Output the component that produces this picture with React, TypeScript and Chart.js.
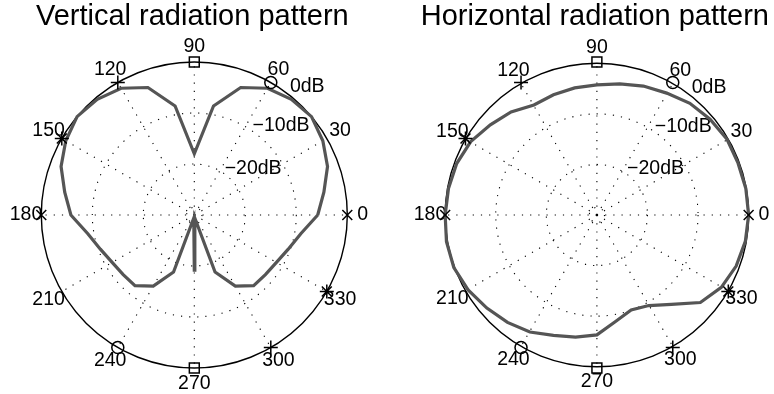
import React, { useEffect, useRef } from "react";
import { Chart, registerables } from "chart.js";

Chart.register(...registerables);

// ---------- data ----------
const DB_MIN = -30;
const ANGLES_DEG = [0, 10, 20, 30, 40, 50, 60, 70, 80, 90, 100, 110, 120, 130, 140, 150, 160, 170, 180, 190, 200, 210, 220, 230, 240, 250, 260, 270, 280, 290, 300, 310, 320, 330, 340, 350];
const VERTICAL_DB = [-5.8, -4.2, -2.2, -0.9, 0, -0.4, -1.3, -3.4, -8.3, -18.0, -8.3, -3.4, -1.3, -0.4, 0, -0.9, -2.2, -4.2, -5.8, -8.8, -10.4, -11.4, -11.8, -11.9, -13.9, -18.1, -29.4, -19.2, -29.4, -18.1, -13.9, -11.9, -11.8, -11.4, -10.4, -8.8];
const HORIZONTAL_DB = [0, -0.1, -0.3, -0.3, -0.8, -1.4, -2.4, -3.1, -3.9, -4.5, -4.7, -4.9, -5.1, -3.6, -2.5, -1.2, -0.5, -0.2, 0, 0.2, 0.1, -0.6, -1.6, -2.5, -3.5, -4.9, -5.7, -6.5, -8.8, -10.2, -9.5, -7.1, -3.3, -1.6, -0.7, -0.2];

const OUTER_RING_DB = 0;
const GRID_RINGS_DB = [-10, -20, -28.5];
const RING_LABEL_DB = [0, -10, -20];
const RING_LABELS = ["0dB", "\u221210dB", "\u221220dB"];
const SPOKE_ANGLES = [0, 30, 60, 90, 120, 150, 180, 210, 240, 270, 300, 330];
const SPOKE_LABELS = ["0", "30", "60", "90", "120", "150", "180", "210", "240", "270", "300", "330"];
const MARKER_ANGLES = [0, 60, 90, 120, 150, 180, 240, 270, 300, 330];
const MARKER_STYLES = ["crossRot", "circle", "rect", "cross", "star", "crossRot", "circle", "rect", "cross", "star"];
const TITLES = ["Vertical radiation pattern", "Horizontal radiation pattern"];

// ---------- styling ----------
const FONT = '"Liberation Sans", Arial, Helvetica, sans-serif';
const MARKER_SIZE: Record<string, number> = { crossRot: 7, circle: 6, rect: 7, cross: 7, star: 7 };
const LIM = (170 * (OUTER_RING_DB - DB_MIN)) / 153;

function toXY(angleDeg: number, db: number) {
  const t = (angleDeg * Math.PI) / 180;
  const r = db - DB_MIN;
  return { x: r * Math.cos(t), y: r * Math.sin(t) };
}

const polarPlugin = {
  id: "polarGrid",
  beforeDatasetsDraw(chart: any, _args: any, opts: any) {
    const { ctx } = chart;
    const xs = chart.scales.x;
    const ys = chart.scales.y;
    const cx = xs.getPixelForValue(0);
    const cy = ys.getPixelForValue(0);
    const rad = (db: number) => xs.getPixelForValue(db - DB_MIN) - cx;
    const R = rad(OUTER_RING_DB);
    ctx.save();
    ctx.strokeStyle = "#000";
    ctx.lineWidth = 1.1;
    ctx.setLineDash([1.2, 7]);
    SPOKE_ANGLES.forEach((a) => {
      const t = (a * Math.PI) / 180;
      ctx.beginPath();
      ctx.moveTo(cx, cy);
      ctx.lineTo(cx + R * Math.cos(t), cy - R * Math.sin(t));
      ctx.stroke();
    });
    GRID_RINGS_DB.forEach((db) => {
      ctx.beginPath();
      ctx.arc(cx, cy, rad(db), 0, Math.PI * 2);
      ctx.stroke();
    });
    ctx.setLineDash([]);
    ctx.lineWidth = 1.4;
    ctx.beginPath();
    ctx.arc(cx, cy, R, 0, Math.PI * 2);
    ctx.stroke();

    ctx.fillStyle = "#000";
    ctx.font = `19.5px ${FONT}`;
    ctx.textAlign = "center";
    ctx.textBaseline = "middle";
    SPOKE_ANGLES.forEach((a, i) => {
      const t = (a * Math.PI) / 180;
      ctx.fillText(SPOKE_LABELS[i], cx + 1.1 * R * Math.cos(t), cy - 1.1 * R * Math.sin(t));
    });
    ctx.textAlign = "left";
    RING_LABEL_DB.forEach((db, i) => {
      const outer = db === OUTER_RING_DB;
      const t = ((outer ? 53.3 : 56.8) * Math.PI) / 180;
      const d = rad(db) + (outer ? 7 : 4.5);
      ctx.fillText(RING_LABELS[i], cx + d * Math.cos(t), cy - d * Math.sin(t));
    });

    ctx.textAlign = "center";
    ctx.font = `29px ${FONT}`;
    ctx.fillText(opts.title, cx - 2, chart.chartArea.top - 28);
    ctx.restore();
  },
};

function makeChart(canvas: HTMLCanvasElement, values: number[], title: string, padL: number, padR: number) {
  const pattern = ANGLES_DEG.map((a, i) => toXY(a, values[i]));
  pattern.push(toXY(360, values[0]));
  const markers = MARKER_ANGLES.map((a) => toXY(a, OUTER_RING_DB));
  return new Chart(canvas, {
    type: "scatter",
    data: {
      datasets: [
        {
          data: markers,
          pointStyle: MARKER_STYLES as any,
          pointRadius: MARKER_STYLES.map((s) => MARKER_SIZE[s]),
          pointBorderColor: "#000",
          pointBackgroundColor: "rgba(0,0,0,0)",
          pointBorderWidth: 1.5,
          showLine: false,
          clip: false as any,
          order: 0,
        },
        {
          data: pattern,
          showLine: true,
          borderColor: "#555555",
          borderWidth: 3.2,
          pointRadius: 0,
          tension: 0,
          fill: false,
          clip: false as any,
          order: 1,
        },
      ],
    },
    options: {
      responsive: false,
      animation: false,
      events: [],
      layout: { padding: { left: padL, right: padR, top: 45, bottom: 9 } },
      scales: {
        x: { type: "linear", min: -LIM, max: LIM, display: false },
        y: { type: "linear", min: -LIM, max: LIM, display: false },
      },
      plugins: {
        legend: { display: false },
        tooltip: { enabled: false },
        polarGrid: { title },
      } as any,
    },
    plugins: [polarPlugin],
  });
}

export default function App() {
  const leftRef = useRef<HTMLCanvasElement>(null);
  const rightRef = useRef<HTMLCanvasElement>(null);

  useEffect(() => {
    const c1 = makeChart(leftRef.current!, VERTICAL_DB, TITLES[0], 24.3, 22.7);
    const c2 = makeChart(rightRef.current!, HORIZONTAL_DB, TITLES[1], 41.3, 5.7);
    return () => {
      c1.destroy();
      c2.destroy();
    };
  }, []);

  return (
    <div style={{ position: "absolute", left: 0, top: 0, width: 774, height: 394, background: "#fff" }}>
      <canvas ref={leftRef} width={387} height={394} style={{ position: "absolute", left: 0, top: 0, display: "block" }} />
      <canvas ref={rightRef} width={387} height={394} style={{ position: "absolute", left: 387, top: 0, display: "block" }} />
    </div>
  );
}
